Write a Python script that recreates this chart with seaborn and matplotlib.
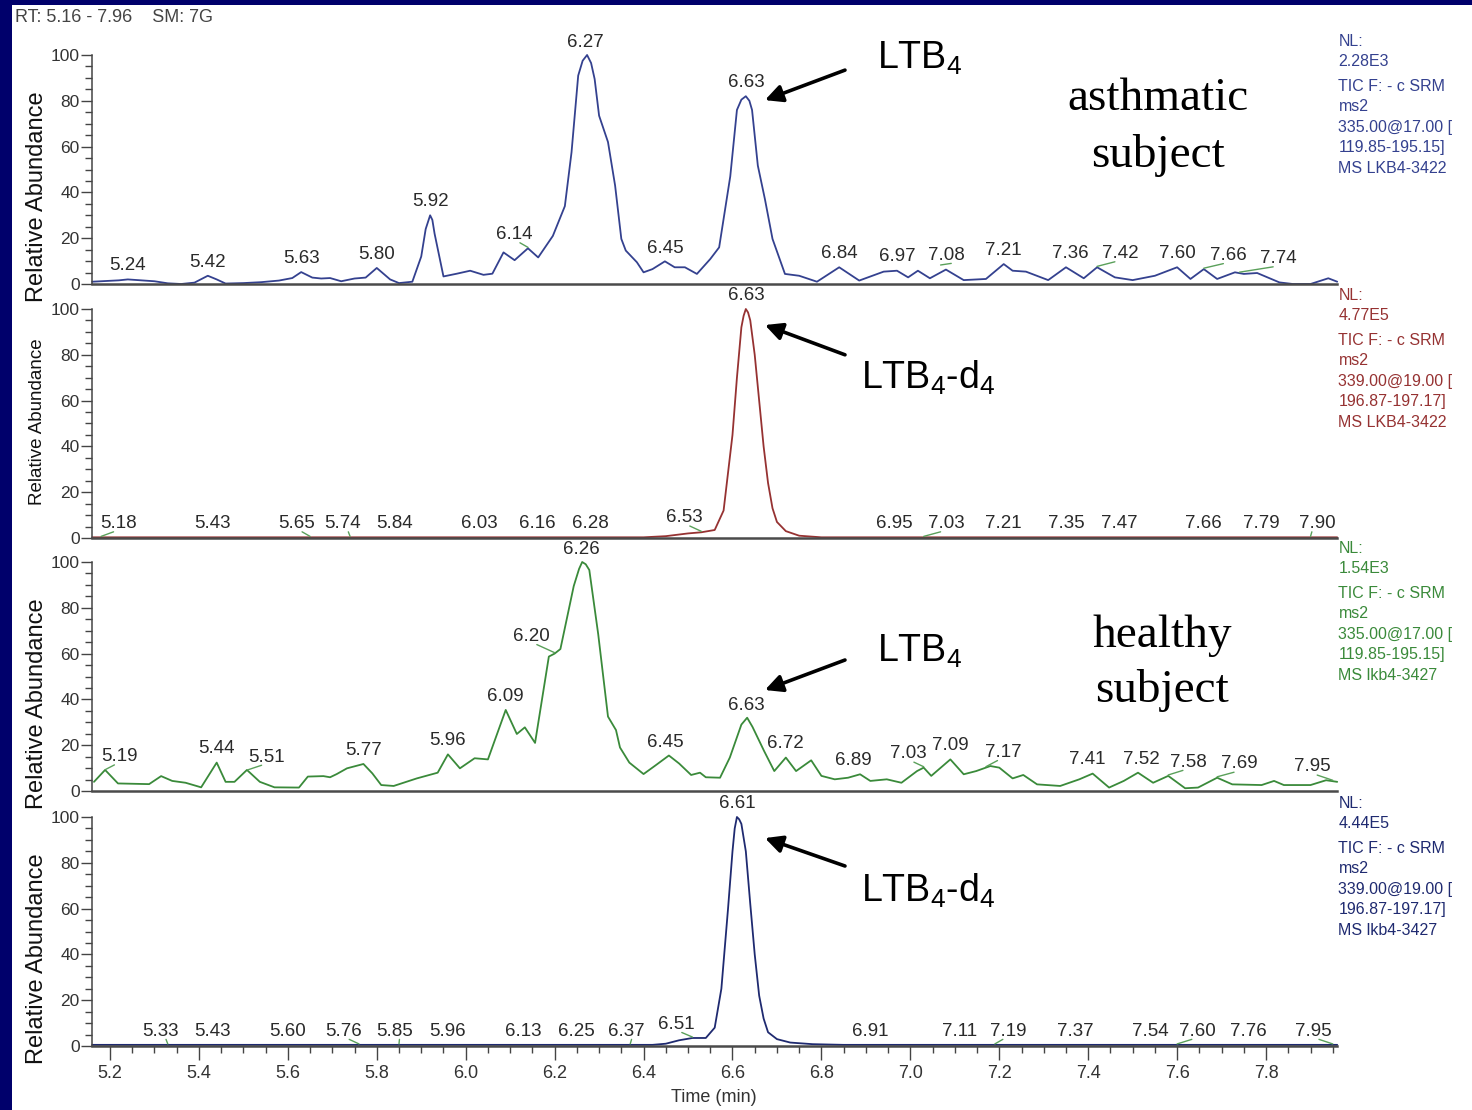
import numpy as np
import pandas as pd
import matplotlib
matplotlib.use("Agg")
import matplotlib.pyplot as plt
from matplotlib.patches import Rectangle
from matplotlib.ticker import MultipleLocator, FixedLocator, FormatStrFormatter
import seaborn as sns

sns.set_theme(style="white")
plt.rcParams["font.family"] = ["Liberation Sans", "DejaVu Sans"]
plt.rcParams["mathtext.fontset"] = "custom"
plt.rcParams["mathtext.rm"] = "Liberation Sans"
plt.rcParams["mathtext.it"] = "Liberation Sans:italic"
plt.rcParams["mathtext.bf"] = "Liberation Sans:bold"

RT_MIN, RT_MAX = 5.16, 7.96

# ---------------- chromatogram traces (time in min, relative abundance %) ----------------
asthma_ltb4_t = [5.16, 5.19, 5.22, 5.24, 5.27, 5.30, 5.33, 5.36, 5.39, 5.42, 5.44, 5.46,
                 5.50, 5.54, 5.58, 5.61, 5.63, 5.655, 5.675, 5.695, 5.72, 5.75, 5.775,
                 5.80, 5.83, 5.85, 5.88, 5.90, 5.91, 5.92, 5.925, 5.93, 5.95, 5.98, 6.01,
                 6.04, 6.06, 6.085, 6.11, 6.14, 6.163, 6.196, 6.223, 6.238, 6.253, 6.263,
                 6.273, 6.282, 6.29, 6.30, 6.32, 6.336, 6.35, 6.36, 6.385, 6.40, 6.42,
                 6.448, 6.47, 6.493, 6.52, 6.55, 6.57, 6.595, 6.61, 6.62, 6.63, 6.638,
                 6.644, 6.657, 6.673, 6.69, 6.718, 6.75, 6.79, 6.84, 6.885, 6.94, 6.97,
                 6.995, 7.017, 7.044, 7.08, 7.12, 7.17, 7.21, 7.23, 7.26, 7.31, 7.35,
                 7.39, 7.42, 7.46, 7.50, 7.55, 7.60, 7.63, 7.66, 7.69, 7.73, 7.75, 7.78,
                 7.83, 7.86, 7.90, 7.94, 7.96]
asthma_ltb4_y = [1.0, 1.3, 1.6, 2.0, 1.6, 1.2, 0.3, 0.0, 0.6, 3.6, 2.0, 0.2,
                 0.4, 0.8, 1.5, 2.6, 5.2, 2.8, 2.4, 2.6, 1.2, 2.4, 2.8,
                 7.0, 2.0, 0.4, 1.0, 12.0, 24.0, 30.0, 28.0, 22.0, 3.3, 4.5, 5.8,
                 4.0, 4.5, 13.8, 10.4, 15.6, 11.6, 21.0, 34.0, 57.5, 91.0, 97.5,
                 100.0, 96.5, 89.5, 73.5, 62.0, 43.0, 19.7, 14.6, 9.5, 5.1, 6.5,
                 9.9, 7.3, 7.3, 4.4, 10.9, 16.0, 47.0, 76.0, 80.5, 82.0, 80.0,
                 76.0, 51.7, 37.0, 19.7, 4.4, 3.6, 1.0, 7.3, 1.5, 5.4, 5.8,
                 2.9, 5.8, 2.5, 6.3, 1.7, 2.2, 8.7, 5.8, 5.4, 1.7, 7.3,
                 2.5, 7.3, 2.9, 1.7, 3.6, 7.3, 2.2, 6.5, 2.2, 5.1, 4.4, 4.8,
                 0.7, 0.0, 0.0, 2.5, 1.0]

asthma_d4_t = [5.16, 6.40, 6.45, 6.50, 6.53, 6.56, 6.58, 6.60, 6.61, 6.62, 6.625, 6.63,
               6.635, 6.64, 6.65, 6.66, 6.67, 6.68, 6.69, 6.70, 6.72, 6.75, 6.80, 7.96]
asthma_d4_y = [0.3, 0.3, 0.8, 2.0, 2.5, 3.5, 12.0, 45.0, 70.0, 92.0, 97.0, 100.0,
               98.5, 95.0, 80.0, 60.0, 40.0, 24.0, 13.0, 7.0, 3.0, 1.0, 0.3, 0.3]

healthy_ltb4_t = [5.164, 5.189, 5.218, 5.288, 5.315, 5.34, 5.37, 5.405, 5.44, 5.46, 5.48,
                  5.508, 5.537, 5.57, 5.625, 5.645, 5.68, 5.695, 5.71, 5.733, 5.77, 5.79,
                  5.81, 5.838, 5.89, 5.937, 5.96, 5.987, 6.02, 6.05, 6.09, 6.115, 6.133,
                  6.156, 6.187, 6.20, 6.213, 6.243, 6.255, 6.262, 6.27, 6.278, 6.298,
                  6.32, 6.338, 6.347, 6.368, 6.40, 6.427, 6.457, 6.48, 6.507, 6.527,
                  6.54, 6.572, 6.594, 6.62, 6.633, 6.645, 6.671, 6.694, 6.72, 6.743,
                  6.777, 6.80, 6.83, 6.86, 6.887, 6.91, 6.947, 6.98, 7.015, 7.03, 7.047,
                  7.09, 7.12, 7.148, 7.18, 7.20, 7.23, 7.254, 7.285, 7.337, 7.38, 7.41,
                  7.447, 7.48, 7.512, 7.546, 7.58, 7.618, 7.647, 7.69, 7.724, 7.79, 7.818,
                  7.84, 7.90, 7.935, 7.96]
healthy_ltb4_y = [4.0, 9.2, 3.3, 3.0, 6.5, 4.4, 3.6, 1.6, 12.4, 4.0, 4.0,
                  9.2, 4.0, 1.6, 1.5, 6.3, 6.5, 6.0, 7.4, 9.9, 11.8, 7.7,
                  2.6, 2.2, 5.5, 8.0, 16.0, 9.9, 14.3, 13.8, 35.4, 24.9, 27.8,
                  21.0, 58.7, 60.0, 62.0, 89.5, 97.0, 100.0, 99.0, 96.5, 68.5,
                  32.5, 26.6, 19.0, 12.4, 7.4, 11.2, 15.5, 12.0, 7.0, 8.0,
                  6.0, 5.8, 14.6, 29.0, 32.0, 28.0, 17.5, 8.7, 14.6, 8.7,
                  13.4, 6.6, 5.1, 5.8, 7.3, 4.4, 5.1, 3.6, 8.7, 10.2, 6.6,
                  13.8, 7.3, 8.7, 10.9, 10.2, 5.5, 7.0, 2.9, 2.2, 5.1, 7.6,
                  1.5, 4.4, 8.0, 3.6, 6.6, 1.2, 1.5, 5.8, 2.9, 2.6, 4.4,
                  2.6, 2.6, 4.7, 4.0]

healthy_d4_t = [5.16, 6.42, 6.45, 6.48, 6.51, 6.54, 6.56, 6.575, 6.59, 6.60, 6.605, 6.61,
                6.615, 6.62, 6.63, 6.64, 6.65, 6.66, 6.67, 6.68, 6.70, 6.73, 6.78, 6.85, 7.96]
healthy_d4_y = [0.5, 0.5, 1.0, 2.5, 3.5, 3.5, 8.0, 25.0, 60.0, 85.0, 95.0, 100.0,
                99.0, 97.0, 85.0, 62.0, 40.0, 22.0, 12.0, 6.0, 3.0, 1.5, 0.8, 0.5, 0.5]

# ---------------- labelled retention times ----------------
asthma_ltb4_peaks = [5.24, 5.42, 5.63, 5.80, 5.92, 6.14, 6.27, 6.45, 6.63, 6.84, 6.97,
                     7.08, 7.21, 7.36, 7.42, 7.60, 7.66, 7.74]
asthma_d4_peaks = [5.18, 5.43, 5.65, 5.74, 5.84, 6.03, 6.16, 6.28, 6.53, 6.63, 6.95,
                   7.03, 7.21, 7.35, 7.47, 7.66, 7.79, 7.90]
healthy_ltb4_peaks = [5.19, 5.44, 5.51, 5.77, 5.96, 6.09, 6.20, 6.26, 6.45, 6.63, 6.72,
                      6.89, 7.03, 7.09, 7.17, 7.41, 7.52, 7.58, 7.69, 7.95]
healthy_d4_peaks = [5.33, 5.43, 5.60, 5.76, 5.85, 5.96, 6.13, 6.25, 6.37, 6.51, 6.61,
                    6.91, 7.11, 7.19, 7.37, 7.54, 7.60, 7.76, 7.95]

# ---------------- scan header text ----------------
asthma_ltb4_info = ["NL:", "2.28E3", "TIC F: - c SRM", "ms2", "335.00@17.00 [",
                    "119.85-195.15]", "MS LKB4-3422"]
asthma_d4_info = ["NL:", "4.77E5", "TIC F: - c SRM", "ms2", "339.00@19.00 [",
                  "196.87-197.17]", "MS LKB4-3422"]
healthy_ltb4_info = ["NL:", "1.54E3", "TIC F: - c SRM", "ms2", "335.00@17.00 [",
                     "119.85-195.15]", "MS lkb4-3427"]
healthy_d4_info = ["NL:", "4.44E5", "TIC F: - c SRM", "ms2", "339.00@19.00 [",
                   "196.87-197.17]", "MS lkb4-3427"]

# ---------------- label layout: horizontal shift of crowded labels (min) ----------------
# labels that are pushed aside get a leader line back to their peak
asthma_ltb4_shift = {6.14: -0.03, 7.42: 0.052, 7.66: 0.056, 7.74: 0.088, 7.08: 0.0}
asthma_d4_shift = {5.18: 0.04, 5.65: -0.03, 5.74: -0.016, 6.53: -0.038, 6.95: 0.013,
                   7.03: 0.05, 7.90: 0.015}
healthy_ltb4_shift = {5.19: 0.032, 5.51: 0.043, 6.20: -0.052, 6.89: -0.018, 7.03: -0.034,
                      7.17: 0.038, 7.41: -0.012, 7.58: 0.045, 7.69: 0.05, 7.95: -0.047}
healthy_d4_shift = {5.33: -0.016, 5.76: -0.034, 5.85: -0.011, 6.37: -0.009, 6.51: -0.036,
                    7.19: 0.03, 7.60: 0.045, 7.95: -0.043}
leader_free = {6.95, 6.89, 7.41}

LTB4 = r"LTB$_{\mathregular{4}}$"
LTB4D4 = r"LTB$_{\mathregular{4}}$-d$_{\mathregular{4}}$"

panels = [
    dict(t=asthma_ltb4_t, y=asthma_ltb4_y, peaks=asthma_ltb4_peaks, shift=asthma_ltb4_shift,
         info=asthma_ltb4_info, color="#34418f", ylab_size=17, ylab_y=38,
         tag=LTB4, arrow=((6.673, 80.3), (6.853, 93.4)), tag_xy=(6.925, 94.0),
         subject=("asthmatic", "subject", 7.557, 76.0, 51.1)),
    dict(t=asthma_d4_t, y=asthma_d4_y, peaks=asthma_d4_peaks, shift=asthma_d4_shift,
         info=asthma_d4_info, color="#963232", ylab_size=13.5, ylab_y=51,
         tag=LTB4D4, arrow=((6.673, 93.0), (6.853, 80.0)), tag_xy=(6.89, 65.0),
         subject=None),
    dict(t=healthy_ltb4_t, y=healthy_ltb4_y, peaks=healthy_ltb4_peaks, shift=healthy_ltb4_shift,
         info=healthy_ltb4_info, color="#3a8a3a", ylab_size=17, ylab_y=38,
         tag=LTB4, arrow=((6.673, 44.1), (6.853, 57.2)), tag_xy=(6.925, 56.5),
         subject=("healthy", "subject", 7.566, 62.9, 38.9)),
    dict(t=healthy_d4_t, y=healthy_d4_y, peaks=healthy_d4_peaks, shift=healthy_d4_shift,
         info=healthy_d4_info, color="#1f2a70", ylab_size=17, ylab_y=38,
         tag=LTB4D4, arrow=((6.673, 90.8), (6.853, 78.6)), tag_xy=(6.89, 62.9),
         subject=None),
]

W, H = 1472, 1110
fig = plt.figure(figsize=(W / 100, H / 100), dpi=100)
fig.patch.set_facecolor("white")
fig.add_artist(Rectangle((0, 0), 12 / W, 1, transform=fig.transFigure,
                         facecolor="#00006b", edgecolor="none"))
fig.add_artist(Rectangle((0, 1 - 5 / H), 1, 5 / H, transform=fig.transFigure,
                         facecolor="#00006b", edgecolor="none"))

ax_left, ax_right = 92.2, 1337.2
zero_rows = [284, 538, 791, 1046]
panel_px = 254
px_per_unit = 2.29
ytop = panel_px / px_per_unit
info_offsets = [0, 20, 45, 65, 86, 106, 127]

axes = []
for k, p in enumerate(panels):
    ax = fig.add_axes([ax_left / W, 1 - zero_rows[k] / H,
                       (ax_right - ax_left) / W, panel_px / H])
    ax.set_facecolor("none")
    axes.append(ax)
    df = pd.DataFrame({"rt": p["t"], "abundance": p["y"]})
    sns.lineplot(data=df, x="rt", y="abundance", ax=ax, color=p["color"], lw=1.3,
                 sort=False, estimator=None, clip_on=False)
    ax.set_xlim(RT_MIN, RT_MAX)
    ax.set_ylim(0, ytop)
    for s in ["top", "right"]:
        ax.spines[s].set_visible(False)
    ax.spines["left"].set_bounds(0, 100)
    ax.spines["left"].set_color("#444444")
    ax.spines["left"].set_linewidth(1.1)
    ax.spines["bottom"].set_color("#4a4a4a")
    ax.spines["bottom"].set_linewidth(1.8)
    ax.yaxis.set_major_locator(FixedLocator([0, 20, 40, 60, 80, 100]))
    ax.yaxis.set_minor_locator(FixedLocator([v for v in range(5, 100, 5) if v % 20]))
    ax.tick_params(axis="y", which="major", left=True, length=8, width=1, color="#444444",
                   labelsize=12.5, labelcolor="#333333", pad=1)
    ax.tick_params(axis="y", which="minor", left=True, length=5, width=1, color="#444444")
    ax.set_xlabel("")
    ax.set_ylabel("")
    ax.text(-0.044, p["ylab_y"], "Relative Abundance", rotation=90, ha="center", va="center",
            fontsize=p["ylab_size"], color="#111111",
            transform=ax.get_yaxis_transform())

    # retention-time labels above peaks
    tt = np.array(p["t"])
    yy = np.array(p["y"])
    for pk in p["peaks"]:
        near = np.linspace(pk - 0.01, pk + 0.01, 5)
        ytr = np.interp(near, tt, yy).max()
        ylab = ytr + 6.0
        dx = p["shift"].get(pk, None)
        xl = pk + (dx or 0.0)
        ax.text(xl, ylab, f"{pk:.2f}", ha="center", va="center", fontsize=13.5,
                color="#2a2a2a", clip_on=False)
        if dx is not None and pk not in leader_free:
            apex = np.interp(pk, tt, yy)
            if abs(dx) < 0.005:
                ax.plot([pk - 0.012, pk + 0.012], [ylab - 4.0, ylab - 3.3],
                        color="#5aa05a", lw=1.0, clip_on=False)
            else:
                end = xl - np.sign(dx) * 0.012
                ax.plot([pk, end], [apex + 0.4, ylab - 3.6], color="#5aa05a",
                        lw=1.0, clip_on=False)

    # scan header block at right
    for line, off in zip(p["info"], info_offsets):
        ax.text(1.001, 106 - off / px_per_unit, line, ha="left", va="center", fontsize=11.5,
                color=p["color"], transform=ax.get_yaxis_transform(), clip_on=False)

    # compound tag with arrow
    tip, tail = p["arrow"]
    ax.annotate("", xy=tip, xytext=tail,
                arrowprops=dict(arrowstyle="-|>", color="black", lw=2.6, mutation_scale=26,
                                shrinkA=0, shrinkB=0))
    ax.text(p["tag_xy"][0], p["tag_xy"][1], p["tag"], ha="left", va="baseline",
            fontsize=27, color="black")
    if p["subject"] is not None:
        w1, w2, sx, sy1, sy2 = p["subject"]
        ax.text(sx, sy1, w1, ha="center", va="baseline", fontsize=34,
                family="Liberation Serif", color="black")
        ax.text(sx, sy2, w2, ha="center", va="baseline", fontsize=34,
                family="Liberation Serif", color="black")

    if k < len(panels) - 1:
        ax.tick_params(axis="x", which="both", bottom=False, labelbottom=False)
    else:
        ax.xaxis.set_major_locator(MultipleLocator(0.2))
        ax.xaxis.set_major_formatter(FormatStrFormatter("%.1f"))
        ax.xaxis.set_minor_locator(MultipleLocator(0.05))
        ax.tick_params(axis="x", which="major", bottom=True, length=10, width=1,
                       color="#444444", labelsize=13, labelcolor="#333333", pad=4)
        ax.tick_params(axis="x", which="minor", bottom=True, length=5, width=1,
                       color="#444444")

fig.text(15 / W, 1 - 18 / H, "RT: 5.16 - 7.96    SM: 7G", ha="left", va="center",
         fontsize=13, color="#444444")
fig.text(714 / W, 1 - 1097 / H, "Time (min)", ha="center", va="center",
         fontsize=13, color="#333333")

fig.savefig("out.png", dpi=100, facecolor=fig.get_facecolor())
